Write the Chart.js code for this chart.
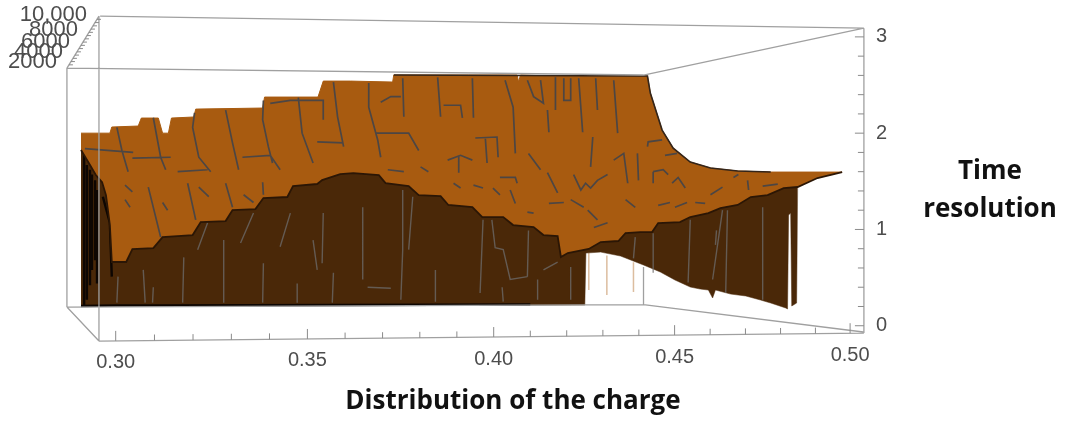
<!DOCTYPE html>
<html lang="en">
<head>
<meta charset="UTF-8">
<title>Time resolution vs distribution of the charge</title>
<style>
    body { margin: 0; background: #fff; }
    .chart-container { width: 1065px; height: 421px; }
</style>
</head>
<body>
<div class="chart-container"><canvas id="surfaceChart"></canvas></div>
<script src="https://cdn.jsdelivr.net/npm/chart.js"></script>
<script>
// Surface outline, [charge, time resolution]
const topEdge = [[.2911,2.00],[.2985,2.00],[.2990,2.064],[.3058,2.074],[.3066,2.157],[.3110,2.157],[.3121,2.00],[.3136,2.00],[.3144,2.157],[.3202,2.168],[.3207,2.25],[.3382,2.261],[.3387,2.375],[.3528,2.375],[.3542,2.541],[.3614,2.541],[.3727,2.531],[.3730,2.604],[.3931,2.604],[.4064,2.604],[.4068,2.531],[.4073,2.604],[.4164,2.593],[.4404,2.593],[.4424,2.593],[.4432,2.417],[.4465,2.032],[.4496,1.845],[.4544,1.70],[.4601,1.638],[.4678,1.607],[.4772,1.596],[.4977,1.596]];
const frontEdge = [[.2911,1.825],[.2934,1.669],[.2949,1.565],[.2965,1.492],[.2975,1.357],[.2985,1.046],[.2990,.662],[.2993,.662],[.3027,.662],[.3043,.797],[.3097,.807],[.3121,.921],[.3199,.942],[.3220,1.077],[.3285,1.087],[.3303,1.202],[.3363,1.212],[.3384,1.326],[.3447,1.337],[.3462,1.451],[.3526,1.472],[.3539,1.513],[.3587,1.575],[.3622,1.586],[.3690,1.565],[.3708,1.482],[.3770,1.451],[.3797,1.357],[.3856,1.347],[.3877,1.254],[.3942,1.233],[.3969,1.129],[.4026,1.129],[.4053,1.046],[.4109,1.025],[.4136,.942],[.4175,.932],[.4184,.714],[.4203,.755],[.4261,.797],[.4294,.869],[.4343,.880],[.4363,.963],[.4404,.973],[.4437,.973],[.4454,1.067],[.4515,1.077],[.4544,1.129],[.4595,1.170],[.4629,1.222],[.4678,1.254],[.4715,1.337],[.4763,1.357],[.4809,1.430],[.4849,1.441],[.4906,1.534],[.4977,1.596]];
const wallBottom = [[.2911,.205],[.4250,.215],[.4253,.755],[.4294,.765],[.4349,.724],[.4413,.631],[.4460,.558],[.4501,.475],[.4544,.402],[.4572,.381],[.4595,.371],[.4607,.288],[.4615,.371],[.4658,.329],[.4701,.309],[.4743,.267],[.4772,.236],[.4815,.184],[.4820,.174],[.4823,1.15],[.4829,1.17],[.4832,.205],[.4846,.236],[.4849,1.441]];

// Contour strokes drawn on the surface
const orangeContours = [
    [[.3003,2.06],[.3016,1.82],[.3032,1.60]], [[.3097,2.16],[.3116,1.75],[.3129,1.62]],
    [[.3204,2.21],[.3199,2.06],[.3215,1.75],[.3246,1.60]], [[.3285,2.24],[.3303,1.90],[.3319,1.62]],
    [[.3384,2.34],[.3382,2.14],[.3397,1.86],[.3408,1.69]], [[.3476,2.37],[.3486,2.00],[.3515,1.69]],
    [[.3569,2.53],[.3580,2.17],[.3596,1.86]], [[.2921,1.84],[.3045,1.80]], [[.3043,1.74],[.3142,1.75]],
    [[.3329,1.75],[.3402,1.77],[.3428,1.62]], [[.3160,1.60],[.3238,1.62]], [[.3526,1.91],[.3596,1.90]],
    [[.3402,2.31],[.3455,2.34],[.3542,2.34],[.3542,2.14]], [[.3663,2.52],[.3663,2.27],[.3687,1.93],[.3695,1.75]],
    [[.3754,2.57],[.3757,2.17]], [[.3681,2.00],[.3770,2.00],[.3797,1.82]], [[.3695,2.32],[.3722,2.38],[.3749,2.38]],
    [[.3848,2.58],[.3856,2.17]], [[.3864,2.29],[.3910,2.29],[.3915,2.16]], [[.3942,2.57],[.3945,2.16]],
    [[.4031,2.55],[.4053,2.27],[.4059,1.79]], [[.3977,1.96],[.3982,1.69]], [[.3950,1.95],[.4009,1.96],[.4012,1.75]],
    [[.3875,1.72],[.3910,1.77],[.3942,1.72]], [[.3905,1.77],[.3905,1.59]], [[.4092,2.55],[.4109,2.38],[.4136,2.31],[.4128,2.55]],
    [[.4147,2.24],[.4151,2.01]], [[.4169,2.58],[.4169,2.24]], [[.4192,2.57],[.4192,2.34],[.4211,2.34],[.4211,2.57]],
    [[.4233,2.57],[.4244,2.01]], [[.4280,2.57],[.4285,2.24]], [[.4330,2.55],[.4341,2.00]], [[.4272,1.96],[.4266,1.65]],
    [[.4219,1.57],[.4239,1.41],[.4252,1.48],[.4266,1.43],[.4285,1.51],[.4313,1.57]],
    [[.4330,1.72],[.4358,1.79],[.4369,1.48]], [[.4396,1.79],[.4399,1.51]],
    [[.3802,1.65],[.3823,1.60]], [[.3891,1.48],[.3910,1.43]], [[.3945,1.46],[.3971,1.43]], [[.3998,1.43],[.4017,1.36]],
    [[.4017,1.54],[.4059,1.54],[.4064,1.48]], [[.4045,1.41],[.4059,1.27]], [[.4095,1.79],[.4128,1.62]], [[.4147,1.59],[.4175,1.38]],
    [[.4151,1.27],[.4192,1.28]], [[.4211,1.31],[.4247,1.23]], [[.4258,1.20],[.4285,1.10]], [[.4275,1.02],[.4313,1.07]],
    [[.4092,1.18],[.4109,1.17]], [[.3714,1.62],[.3757,1.60]],
    [[.4440,1.60],[.4440,1.48]], [[.4440,1.60],[.4468,1.62],[.4482,1.57]], [[.4424,1.86],[.4426,1.91],[.4465,1.93]],
    [[.4473,1.77],[.4507,1.79]], [[.4493,1.48],[.4510,1.54],[.4530,1.43]], [[.4601,1.36],[.4635,1.44]],
    [[.4454,1.25],[.4487,1.28]], [[.4501,1.23],[.4535,1.28]], [[.4558,1.28],[.4586,1.27]],
    [[.4363,1.31],[.4390,1.23]], [[.4749,1.45],[.4792,1.47]], [[.4706,1.51],[.4709,1.41]], [[.4666,1.54],[.4680,1.57]],
    [[.3084,1.44],[.3116,.92]], [[.3186,1.48],[.3207,1.10]], [[.3285,1.48],[.3303,1.23]], [[.3382,1.49],[.3384,1.36]],
    [[.3024,1.46],[.3043,1.39]], [[.3024,1.31],[.3037,1.23]], [[.3121,1.28],[.3134,1.20]], [[.3215,1.44],[.3241,1.34]], [[.3332,1.36],[.3358,1.28]]
];
const wallContours = [
    [[.3006,.51],[.3003,.24]], [[.3071,.58],[.3076,.24]], [[.3097,.40],[.3095,.24]], [[.3176,.71],[.3173,.24]],
    [[.3280,.89],[.3280,.24]], [[.3384,.65],[.3382,.24]], [[.3473,.44],[.3473,.24]], [[.3515,.89],[.3526,.58]],
    [[.3542,1.17],[.3539,.65]], [[.3569,.55],[.3566,.24]], [[.3455,1.17],[.3428,.82]], [[.3358,1.17],[.3324,.86]],
    [[.3238,1.07],[.3212,.79]], [[.3647,1.23],[.3647,.48]], [[.3754,1.41],[.3754,.79],[.3749,.27]], [[.3781,1.34],[.3770,.79]],
    [[.3842,.58],[.3842,.25]], [[.3660,.40],[.3722,.39]], [[.3971,1.10],[.3963,.34]],
    [[.3995,1.10],[.4004,.81],[.4026,.79],[.4045,.48],[.4092,.51]], [[.4095,.99],[.4092,.51]], [[.4120,.48],[.4120,.27]],
    [[.4211,.61],[.4211,.27]], [[.4136,.58],[.4175,.66]], [[.4023,.40],[.4026,.25]],
    [[.4390,.92],[.4385,.70]], [[.4440,.96],[.4440,.55]], [[.4544,1.10],[.4538,.45]], [[.4649,1.20],[.4644,.34]],
    [[.4635,1.20],[.4607,.48]], [[.4618,.99],[.4615,.84]], [[.4749,1.23],[.4749,.27]]
];
const blackStreaks = [
    [[.2919,1.82],[.2919,.21]], [[.2926,1.67],[.2926,.27]], [[.2934,1.62],[.2934,.42]], [[.2939,1.57],[.2939,.58]],
    [[.2947,1.51],[.2947,.68]], [[.2952,1.41],[.2952,.44]], [[.2967,1.34],[.2985,1.07],[.2990,.51]],
    [[.2911,.205],[.3000,.21],[.3100,.21],[.4100,.22]]
];
const faintSpikes = [[[.4261,.755],[.4261,.37]], [[.4311,.73],[.4311,.32]], [[.4385,.66],[.4385,.35]]];
const darkRim = [[[.3730,2.604],[.4404,2.593],[.4424,2.593],[.4432,2.417],[.4465,2.032],[.4496,1.845],[.4544,1.70],[.4601,1.638],[.4678,1.607],[.4772,1.596]]];

// Bounding box of the 3D plot
const boxEdges = [
    [[.2960,3.216],[.5040,3.09]], [[.2875,2.676],[.4413,2.604]], [[.4413,2.604],[.5040,3.09]],
    [[.2875,2.676],[.2875,.194]], [[.2957,3.216],[.2957,-.159]], [[.2875,2.676],[.2957,3.216]],
    [[.2875,.194],[.4413,.22]], [[.4413,.22],[.5038,-.065]], [[.2875,.194],[.2957,-.159]],
    [[.2957,-.159],[.5040,-.076]], [[.5040,3.09],[.5040,-.076]], [[.4413,.61],[.4413,.22]]
];

// Axis labels
const xTickValues = [0.30, 0.35, 0.40, 0.45, 0.50];
const xTickLabels = ['0.30', '0.35', '0.40', '0.45', '0.50'];
const yTickValues = [0, 1, 2, 3];
const depthLabels = ['10,000', '8000', '6000', '4000', '2000'];
const depthLabelEnds = [[87, 15], [78, 30], [70, 42], [63, 52], [57, 62]];

const ORANGE = '#a85b10';
const WALL = '#4a2808';
const FRAME = '#a0a0a0';
const TICK_TEXT = '#4d4d4d';

// The front edge of the box is in perspective: 0.05 of charge gets narrower to the right
class FrontEdgeScale extends Chart.LinearScale {
    static id = 'frontEdge';
    static defaults = Chart.LinearScale.defaults;
    getPixelForValue(value) {
        const t = (value - 0.3) / 0.05;
        return this.left + (55.7 + 194.4 * t - 2.7 * t * t) * this.width / 804;
    }
    getValueForPixel(pixel) {
        const p = (pixel - this.left) * 804 / this.width;
        const t = (194.4 - Math.sqrt(194.4 * 194.4 - 4 * 2.7 * (p - 55.7))) / (2 * 2.7);
        return 0.3 + t * 0.05;
    }
}
Chart.register(FrontEdgeScale);

const withGaps = strokes => strokes.flatMap(s => [...s, [s[s.length - 1][0], null]]);

function lineSet(data, color, width) {
    return { data, borderColor: color, borderWidth: width, pointRadius: 0, tension: 0, fill: false, spanGaps: false, clip: false };
}

const datasets = [
    lineSet(withGaps(faintSpikes), '#dcbd9f', 1.5),
    { ...lineSet(wallBottom, WALL, 0.5), fill: { target: 4 }, backgroundColor: WALL },
    lineSet(withGaps(blackStreaks), '#0d0602', 2.4),
    lineSet(withGaps(wallContours), 'rgba(110,108,108,0.75)', 1.4),
    lineSet(frontEdge, WALL, 0),
    { ...lineSet(topEdge, ORANGE, 1), fill: { target: 4 }, backgroundColor: ORANGE },
    lineSet(withGaps(orangeContours), '#4c4644', 1.7),
    lineSet(frontEdge, '#2b1605', 1.8),
    lineSet(withGaps(darkRim), '#33251a', 1.6),
    lineSet(withGaps(boxEdges), FRAME, 1.3)
];
datasets.forEach((d, i) => { d.order = datasets.length - i; });

// Slanted ticks and the text that Chart.js axes can't place
const axisDecor = {
    id: 'axisDecor',
    afterDraw(chart) {
        const { ctx, scales: { x, y } } = chart;
        const axisX = x.getPixelForValue(0.504);
        // bottom axis runs from (0.2957, -0.159) to (0.504, -0.076)
        const baseline = v => y.getPixelForValue(-0.159 + (v - 0.2957) * 0.083 / 0.2083);
        ctx.save();
        ctx.strokeStyle = '#8a8a8a';
        ctx.lineWidth = 1;
        ctx.beginPath();
        for (let i = 30; i <= 50; i++) {
            const v = i / 100, px = x.getPixelForValue(v), py = baseline(v);
            ctx.moveTo(px, py);
            ctx.lineTo(px, py - (i % 5 === 0 ? 10 : 6));
        }
        for (let i = 0; i <= 15; i++) {
            const py = y.getPixelForValue(i / 5);
            ctx.moveTo(axisX, py);
            ctx.lineTo(axisX - (i % 5 === 0 ? 9 : 6), py);
        }
        // depth axis on the top left corner
        const d0 = [x.getPixelForValue(0.2875), y.getPixelForValue(2.676)];
        const d1 = [x.getPixelForValue(0.2957), y.getPixelForValue(3.216)];
        for (let i = 1; i < 16; i++) {
            const px = d0[0] + (d1[0] - d0[0]) * i / 16, py = d0[1] + (d1[1] - d0[1]) * i / 16;
            ctx.moveTo(px, py);
            ctx.lineTo(px + 4, py);
        }
        ctx.stroke();

        ctx.fillStyle = TICK_TEXT;
        ctx.textBaseline = 'middle';
        ctx.textAlign = 'center';
        ctx.font = '20px "Liberation Sans"';
        xTickValues.forEach((v, i) => {
            ctx.fillText(xTickLabels[i], x.getPixelForValue(v), baseline(v) + 22);
        });
        ctx.textAlign = 'right';
        ctx.font = '22px "Liberation Sans"';
        depthLabels.forEach((t, i) => ctx.fillText(t, depthLabelEnds[i][0], depthLabelEnds[i][1]));

        ctx.fillStyle = '#111';
        ctx.textAlign = 'center';
        ctx.font = '700 26px "Open Sans"';
        ctx.fillText('Time', 990, 172);
        ctx.fillText('resolution', 990, 210);
        ctx.fillText('Distribution of the charge', 513, 402);
        ctx.restore();
    }
};

new Chart(document.getElementById('surfaceChart'), {
    type: 'line',
    data: { datasets },
    options: {
        responsive: true,
        maintainAspectRatio: false,
        animation: false,
        layout: { padding: { left: 60, top: 8, bottom: 76, right: 0 } },
        plugins: { legend: { display: false }, tooltip: { enabled: false } },
        scales: {
            x: { type: 'frontEdge', min: 0.28, max: 0.51, display: false },
            y: {
                type: 'linear',
                position: 'right',
                min: -0.2,
                max: 3.3,
                grid: { display: false, drawTicks: false },
                border: { display: false },
                afterBuildTicks: scale => { scale.ticks = yTickValues.map(value => ({ value })); },
                afterFit: scale => { scale.width = 201; scale.paddingTop = 0; scale.paddingBottom = 0; },
                ticks: {
                    padding: 12,
                    color: TICK_TEXT,
                    font: { family: '"Liberation Sans"', size: 20 }
                }
            }
        }
    },
    plugins: [axisDecor]
});
</script>
</body>
</html>
